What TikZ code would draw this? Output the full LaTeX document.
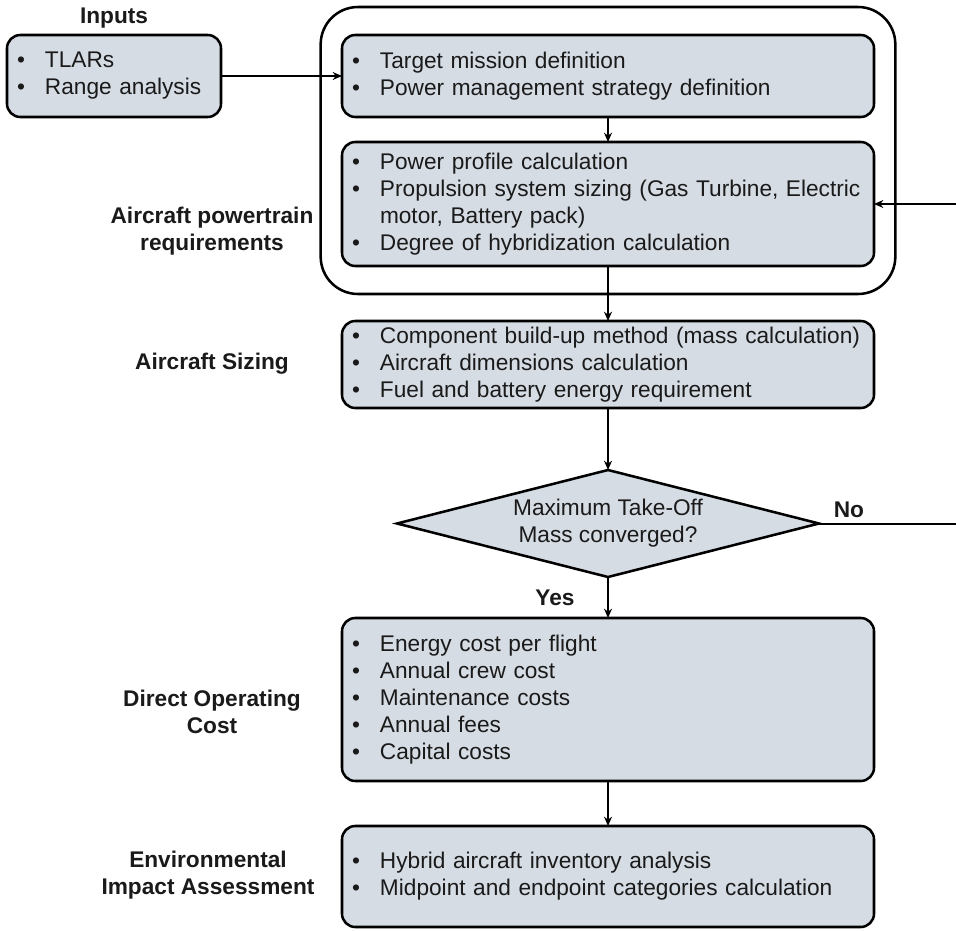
\documentclass[tikz,border=0pt]{standalone}
\usepackage{fontspec}
\setmainfont{Liberation Sans}
\usepackage{xcolor}
\definecolor{cFill}{HTML}{D6DCE4}
\definecolor{cLine}{HTML}{000000}
\definecolor{cText}{HTML}{1A1A1A}
\usepackage{tikz}
\usetikzlibrary{positioning,arrows.meta,fit,shapes.geometric}
\newcommand{\fsize}{\fontsize{17}{20.25}\selectfont}
\newcommand{\bitem}[1]{\mbox{\makebox[21pt][l]{\textbullet}#1}}
\newcommand{\bcont}[1]{\mbox{\hspace*{21pt}#1}}
\tikzset{
  node-box/.style={draw=cLine,line width=1.9pt,fill=cFill,rounded corners=10pt,
    text width=#1,align=left,inner xsep=7.5pt,inner ysep=0pt,outer sep=0pt,text=cText},
  node-box/.default=384pt,
  node-group/.style={draw=cLine,line width=1.9pt,rounded corners=28pt,
    inner xsep=16pt,inner ysep=21pt,outer sep=0pt},
  node-decision/.style={draw=cLine,line width=1.9pt,fill=cFill,diamond,aspect=4,
    minimum width=316.5pt,minimum height=80.25pt,inner sep=0pt,outer sep=0pt,
    align=center,text=cText},
  node-label/.style={font=\fsize\bfseries,align=center,text=cText},
  arrow/.style={-{Stealth[length=7pt,width=6pt]},line width=1.5pt,draw=cLine},
}

\begin{document}
\begin{tikzpicture}[x=0.75pt,y=-0.75pt,font=\fsize]
  \clip (0,0) rectangle (956,931);
  % inputs
  \node[node-label] (inputs-lbl) at (114,18) {Inputs};
  \node[node-box=145.5pt,minimum height=61.5pt] (inputs) at (114,76)
    {\bitem{TLARs}\\\bitem{Range analysis}};
  % powertrain requirements
  \node[node-box,minimum height=61.5pt] (mission) at (608,76)
    {\bitem{Target mission definition}\\\bitem{Power management strategy definition}};
  \node[node-box,minimum height=93pt,below=18.75pt of mission] (power)
    {\bitem{Power profile calculation}\\
     \bitem{Propulsion system sizing (Gas Turbine, Electric}\\
     \bcont{motor, Battery pack)}\\
     \bitem{Degree of hybridization calculation}};
  \node[node-group,fit=(mission)(power)] (req) {};
  \node[node-label] (req-lbl) at (212,231) {Aircraft powertrain\\requirements};
  % sizing loop
  \node[node-box,minimum height=65.25pt,below=41.25pt of power] (sizing)
    {\bitem{Component build-up method (mass calculation)}\\
     \bitem{Aircraft dimensions calculation}\\
     \bitem{Fuel and battery energy requirement}};
  \node[node-label] (sizing-lbl) at (212,364) {Aircraft Sizing};
  \node[node-decision,below=46.5pt of sizing] (dec) {Maximum Take-Off\\Mass converged?};
  \coordinate[right=112pt of dec.east] (fb);
  % cost and impact
  \node[node-box,minimum height=122.25pt,below=30.75pt of dec] (doc)
    {\bitem{Energy cost per flight}\\\bitem{Annual crew cost}\\
     \bitem{Maintenance costs}\\\bitem{Annual fees}\\\bitem{Capital costs}};
  \node[node-label] (doc-lbl) at (212,712) {Direct Operating\\Cost};
  \node[node-box,minimum height=75.75pt,below=33.75pt of doc] (env)
    {\bitem{Hybrid aircraft inventory analysis}\\
     \bitem{Midpoint and endpoint categories calculation}};
  \node[node-label] (env-lbl) at (208,875) {Environmental\\Impact Assessment};

  \draw[arrow] (inputs) -- (mission);
  \draw[arrow] (mission) -- (power);
  \draw[arrow] (power) -- (sizing);
  \draw[arrow] (sizing) -- (dec);
  \draw[arrow] (dec) -- node[node-label,left=21pt]{Yes} (doc);
  \draw[arrow] (doc) -- (env);
  \draw[arrow] (dec.east) -- node[node-label,above,pos=0.2]{No} (fb) |- (power.east);
\end{tikzpicture}
\end{document}
